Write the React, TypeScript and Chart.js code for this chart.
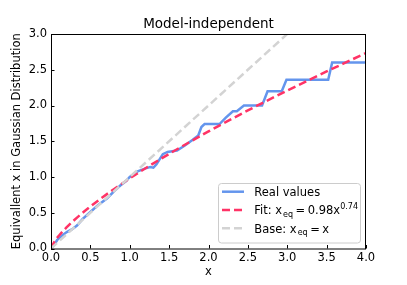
import React, { useEffect, useRef } from "react";
import { Chart, registerables } from "chart.js";

Chart.register(...registerables);

const TITLE = "Model-independent";
const X_LABEL = "x";
const Y_LABEL = "Equivallent x in Gaussian Distribution";

const realX = [0, 0.04, 0.08, 0.15, 0.2, 0.27, 0.33, 0.4, 0.5, 0.6, 0.71, 0.8, 0.88, 0.95, 1.0, 1.1, 1.2, 1.26, 1.3, 1.34, 1.42, 1.48, 1.6, 1.7, 1.8, 1.87, 1.91, 1.95, 2.14, 2.22, 2.31, 2.36, 2.45, 2.68, 2.75, 2.93, 2.99, 3.52, 3.57, 4.0];
const realY = [0, 0.05, 0.12, 0.19, 0.23, 0.27, 0.32, 0.41, 0.51, 0.61, 0.7, 0.8, 0.88, 0.94, 1.0, 1.08, 1.12, 1.14, 1.13, 1.18, 1.32, 1.35, 1.37, 1.44, 1.52, 1.58, 1.7, 1.74, 1.74, 1.83, 1.92, 1.92, 2.0, 2.0, 2.2, 2.2, 2.36, 2.36, 2.6, 2.6];

const fitX = [0, 0.05, 0.1, 0.2, 0.3, 0.5, 0.75, 1.0, 1.25, 1.5, 1.75, 2.0, 2.5, 3.0, 3.5, 4.0];
const fitY = [0, 0.107, 0.178, 0.298, 0.402, 0.587, 0.792, 0.98, 1.156, 1.323, 1.483, 1.637, 1.931, 2.209, 2.476, 2.734];

const baseX = [0, 4];
const baseY = [0, 4];

const X_TICKS = [0, 0.5, 1, 1.5, 2, 2.5, 3, 3.5, 4];
const Y_TICKS = [0, 0.5, 1, 1.5, 2, 2.5, 3];

const BLUE = "#6495ed";
const RED = "#ff3366";
const GRAY = "#d3d3d3";
const FONT = "'DejaVu Sans', sans-serif";

const toPts = (xs: number[], ys: number[]) => xs.map((x, i) => ({ x, y: ys[i] }));

type Seg = { t: string; size: number; dy: number; gap?: number };

const legendRows: { color: string; dash: number[]; segs: Seg[] }[] = [
  { color: BLUE, dash: [], segs: [{ t: "Real values", size: 11.5, dy: 0 }] },
  {
    color: RED,
    dash: [8, 4],
    segs: [
      { t: "Fit: x", size: 11.5, dy: 0 },
      { t: "eq", size: 8, dy: 2.5, gap: 1 },
      { t: "=", size: 11.5, dy: 0, gap: 2.5 },
      { t: "0.98x", size: 11.5, dy: 0, gap: 2.5 },
      { t: "0.74", size: 8, dy: -5 },
    ],
  },
  {
    color: GRAY,
    dash: [8, 4],
    segs: [
      { t: "Base: x", size: 11.5, dy: 0 },
      { t: "eq", size: 8, dy: 2.5, gap: 1 },
      { t: "=", size: 11.5, dy: 0, gap: 2.5 },
      { t: "x", size: 11.5, dy: 0, gap: 2.5 },
    ],
  },
];

const framePlugin = {
  id: "frame",
  afterDraw(chart: any) {
    const { ctx, chartArea } = chart;
    const { left, right, top, bottom } = chartArea;
    const xs = chart.scales.x;
    const ys = chart.scales.y;
    ctx.save();
    // spines
    ctx.strokeStyle = "#000";
    ctx.lineWidth = 1;
    ctx.strokeRect(left + 0.5, top + 0.5, right - left - 1, bottom - top);
    // inward ticks
    ctx.beginPath();
    X_TICKS.forEach((v) => {
      const px = Math.round(xs.getPixelForValue(v)) + 0.5;
      ctx.moveTo(px, bottom);
      ctx.lineTo(px, bottom - 3.5);
    });
    Y_TICKS.forEach((v) => {
      const py = Math.round(ys.getPixelForValue(v)) + 0.5;
      ctx.moveTo(left, py);
      ctx.lineTo(left + 3.5, py);
    });
    ctx.stroke();

    // title
    ctx.fillStyle = "#000";
    ctx.font = `13.5px ${FONT}`;
    ctx.textAlign = "center";
    ctx.textBaseline = "alphabetic";
    ctx.fillText(TITLE, (left + right) / 2, 28);

    // legend
    const bx = 218.5, by = 183.5, bw = 142, bh = 59.5, r = 3;
    ctx.beginPath();
    ctx.moveTo(bx + r, by);
    ctx.lineTo(bx + bw - r, by);
    ctx.arcTo(bx + bw, by, bx + bw, by + r, r);
    ctx.lineTo(bx + bw, by + bh - r);
    ctx.arcTo(bx + bw, by + bh, bx + bw - r, by + bh, r);
    ctx.lineTo(bx + r, by + bh);
    ctx.arcTo(bx, by + bh, bx, by + bh - r, r);
    ctx.lineTo(bx, by + r);
    ctx.arcTo(bx, by, bx + r, by, r);
    ctx.closePath();
    ctx.fillStyle = "rgba(255,255,255,0.8)";
    ctx.fill();
    ctx.strokeStyle = "#cccccc";
    ctx.lineWidth = 1;
    ctx.stroke();

    const rowsY = [191.7, 210, 228.3];
    legendRows.forEach((row, i) => {
      const y = rowsY[i];
      ctx.beginPath();
      ctx.setLineDash(row.dash);
      ctx.lineDashOffset = 0;
      ctx.strokeStyle = row.color;
      ctx.lineWidth = 2.5;
      ctx.moveTo(222, y);
      ctx.lineTo(244, y);
      ctx.stroke();
      ctx.setLineDash([]);
      let x = 254.3;
      ctx.fillStyle = "#000";
      ctx.textAlign = "left";
      ctx.textBaseline = "alphabetic";
      row.segs.forEach((s) => {
        x += s.gap || 0;
        ctx.font = `${s.size}px ${FONT}`;
        ctx.fillText(s.t, x, y + 4.3 + s.dy);
        x += ctx.measureText(s.t).width;
      });
    });
    ctx.restore();
  },
};

export default function App() {
  const ref = useRef<HTMLCanvasElement | null>(null);
  useEffect(() => {
    const canvas = ref.current;
    if (!canvas) return;
    const chart = new Chart(canvas, {
      type: "scatter",
      data: {
        datasets: [
          {
            label: "Real values",
            data: toPts(realX, realY),
            showLine: true,
            borderColor: BLUE,
            backgroundColor: BLUE,
            borderWidth: 2.5,
            pointRadius: 0,
            tension: 0,
            order: 3,
            clip: 0,
          } as any,
          {
            label: "Fit",
            data: toPts(fitX, fitY),
            showLine: true,
            borderColor: RED,
            backgroundColor: RED,
            borderWidth: 2.5,
            borderDash: [8, 4],
            pointRadius: 0,
            cubicInterpolationMode: "monotone",
            order: 2,
            clip: 0,
          } as any,
          {
            label: "Base",
            data: toPts(baseX, baseY),
            showLine: true,
            borderColor: GRAY,
            backgroundColor: GRAY,
            borderWidth: 2.5,
            borderDash: [8, 4],
            pointRadius: 0,
            order: 1,
            clip: 0,
          } as any,
        ],
      },
      options: {
        animation: false,
        responsive: false,
        devicePixelRatio: 1,
        layout: { padding: { left: 0, top: 34, right: 41, bottom: 0 } },
        plugins: { legend: { display: false }, tooltip: { enabled: false }, title: { display: false } },
        scales: {
          x: {
            type: "linear",
            min: 0,
            max: 4,
            afterFit: (s: any) => {
              s.height = 36.5;
            },
            afterBuildTicks: (s: any) => {
              s.ticks = X_TICKS.map((v) => ({ value: v }));
            },
            grid: { display: false, drawTicks: false },
            border: { display: false },
            ticks: {
              autoSkip: false,
              maxRotation: 0,
              padding: 3,
              color: "#000",
              font: { family: FONT, size: 11.5 },
              callback: (v: any) => Number(v).toFixed(1),
            },
            title: {
              display: true,
              text: X_LABEL,
              color: "#000",
              font: { family: FONT, size: 11.5 },
              padding: { top: 0, bottom: 5.6 },
            },
          },
          y: {
            type: "linear",
            min: 0,
            max: 3,
            afterFit: (s: any) => {
              s.width = 51;
            },
            afterBuildTicks: (s: any) => {
              s.ticks = Y_TICKS.map((v) => ({ value: v }));
            },
            grid: { display: false, drawTicks: false },
            border: { display: false },
            ticks: {
              autoSkip: false,
              padding: 4,
              color: "#000",
              font: { family: FONT, size: 11.5 },
              callback: (v: any) => Number(v).toFixed(1),
            },
            title: {
              display: true,
              text: Y_LABEL,
              color: "#000",
              font: { family: FONT, size: 11.5 },
              padding: { top: 10.6, bottom: 0 },
            },
          },
        },
      },
      plugins: [framePlugin],
    });
    return () => chart.destroy();
  }, []);
  return (
    <div style={{ position: "absolute", left: 0, top: 0, width: 407, height: 285, background: "#fff" }}>
      <canvas ref={ref} width={407} height={285} />
    </div>
  );
}
